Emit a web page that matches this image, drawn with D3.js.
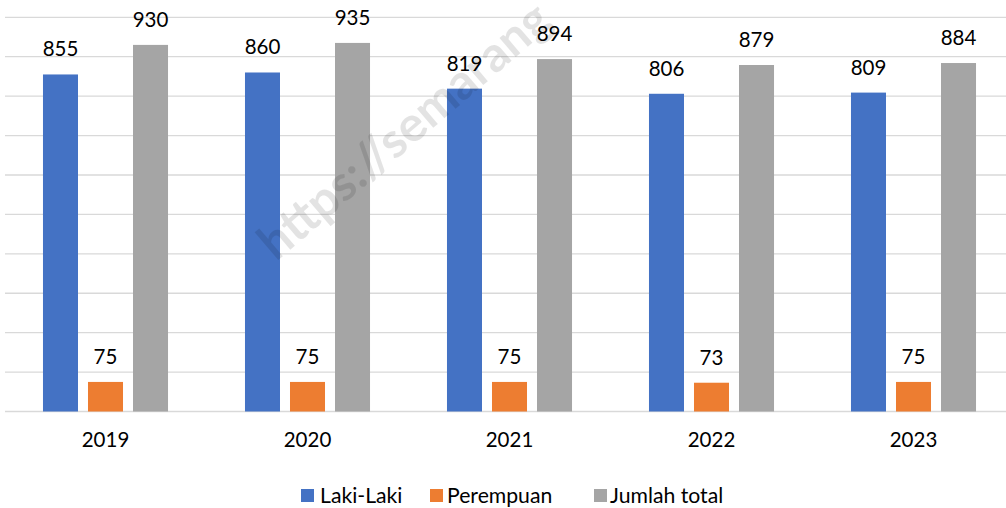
<!DOCTYPE html>
<html>
<head>
<meta charset="utf-8">
<script src="https://cdn.jsdelivr.net/npm/d3@7"></script>
<style>
	html, body { margin: 0; padding: 0; background: #fff; }
	svg { display: block; font-family: Lato, "Open Sans", sans-serif; }
</style>
</head>
<body>
<div id="chart"></div>
<script>
// data
const years = ["2019", "2020", "2021", "2022", "2023"];
const seriesNames = ["Laki-Laki", "Perempuan", "Jumlah total"];
const seriesColors = ["#4472C4", "#ED7D31", "#A5A5A5"];
const lakiLaki = [855, 860, 819, 806, 809];
const perempuan = [75, 75, 75, 73, 75];
const jumlahTotal = [930, 935, 894, 879, 884];
const yTicks = [0, 100, 200, 300, 400, 500, 600, 700, 800, 900, 1000];

let width = 1006;
let height = 508;

let rows = years.map((y, i) => ({
	year: y,
	values: [lakiLaki[i], perempuan[i], jumlahTotal[i]]
}));

let svg = d3.select('#chart')
	.append('svg')
	.attr('width', width)
	.attr('height', height);

let x0 = d3.scaleBand()
	.domain(years)
	.range([4.5, 1014.5])
	.paddingInner(0.381)
	.paddingOuter(0.1905);

let x1 = d3.scaleBand()
	.domain(seriesNames)
	.range([0, x0.bandwidth()])
	.paddingInner(0.2222);

let y = d3.scaleLinear()
	.domain([0, 1000])
	.range([411.5, 17.3]);

// gridlines
svg.append('g')
	.selectAll('line')
	.data(yTicks)
	.enter()
	.append('line')
	.attr('x1', 5)
	.attr('x2', width)
	.attr('y1', d => y(d))
	.attr('y2', d => y(d))
	.attr('stroke', '#d9d9d9')
	.attr('stroke-width', 1.3);

let groups = svg.append('g')
	.selectAll('g')
	.data(rows)
	.enter()
	.append('g')
	.attr('transform', d => 'translate(' + x0(d.year) + ',0)');

let cells = groups.selectAll('g')
	.data(d => d.values.map((v, i) => ({ name: seriesNames[i], value: v, color: seriesColors[i] })))
	.enter()
	.append('g');

cells.append('rect')
	.attr('x', d => x1(d.name))
	.attr('y', d => y(d.value))
	.attr('width', x1.bandwidth())
	.attr('height', d => y(0) - y(d.value))
	.attr('fill', d => d.color);

cells.append('text')
	.attr('x', d => x1(d.name) + x1.bandwidth() / 2)
	.attr('y', d => y(d.value) - 18)
	.attr('text-anchor', 'middle')
	.attr('font-size', 20.5)
	.attr('fill', '#000')
	.text(d => d.value);

// x axis labels
let xAxis = d3.axisBottom(x0).tickSize(0).tickPadding(0);
let axisG = svg.append('g')
	.attr('transform', 'translate(0,' + 432 + ')')
	.call(xAxis);
axisG.select('.domain').remove();
axisG.selectAll('text')
	.attr('font-family', 'Lato, sans-serif')
	.attr('font-size', 20.5)
	.attr('fill', '#000')
	.attr('dy', '0.71em');

// legend
let legendX = [301, 430, 594];
let legend = svg.append('g')
	.selectAll('g')
	.data(seriesNames)
	.enter()
	.append('g')
	.attr('transform', (d, i) => 'translate(' + legendX[i] + ',' + 489 + ')');

legend.append('rect')
	.attr('width', 13)
	.attr('height', 13)
	.attr('fill', (d, i) => seriesColors[i]);

legend.append('text')
	.attr('x', (d, i) => [19, 17, 16][i])
	.attr('y', 13.5)
	.attr('font-size', 21.2)
	.attr('fill', '#000')
	.text(d => d);

// watermark
svg.append('text')
	.attr('transform', 'translate(276,262) rotate(-40.5)')
	.attr('font-size', 49)
	.attr('font-weight', 'bold')
	.attr('fill', '#000')
	.attr('fill-opacity', 0.11)
	.text('https://semarang');
</script>
</body>
</html>
